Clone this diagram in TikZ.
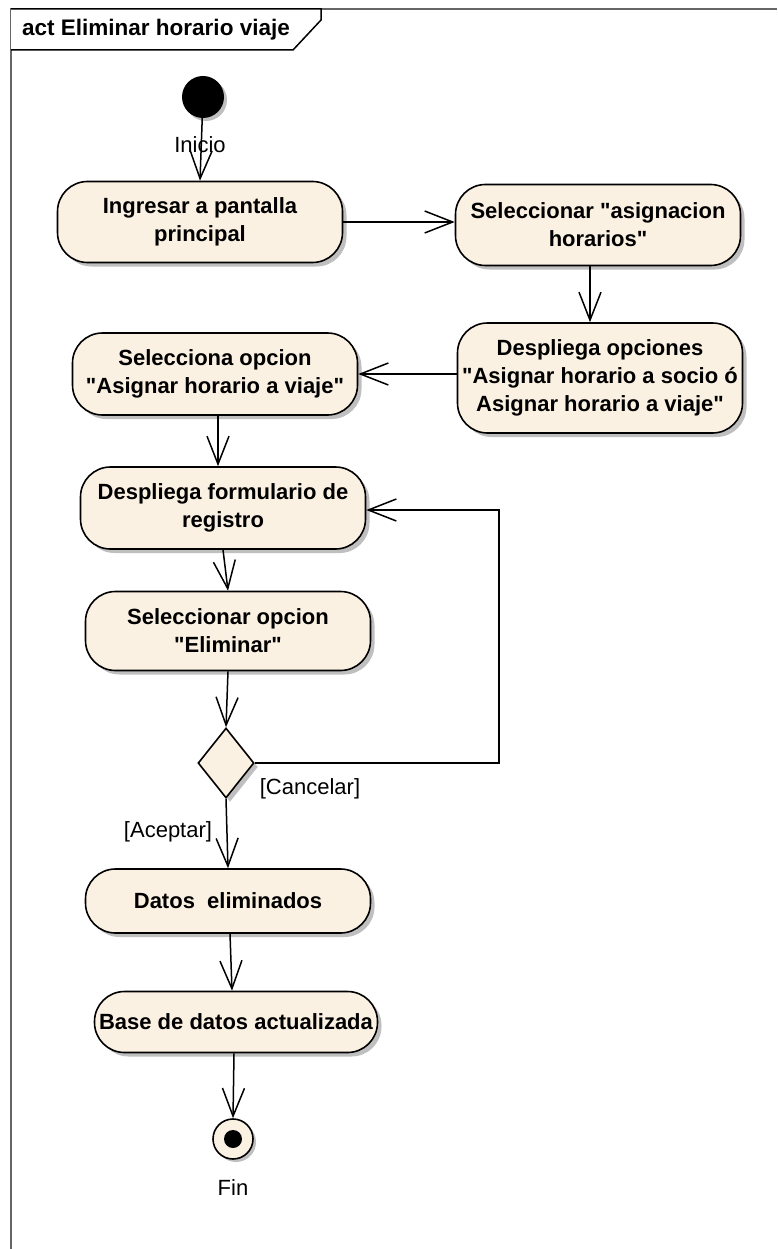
\documentclass[tikz,border=0pt]{standalone}
\usepackage{fontspec}
\setmainfont{Liberation Sans}
\usepackage{tikz}
\usepackage{xcolor}
\usetikzlibrary{shapes.geometric,arrows.meta,shadows}

\definecolor{actfill}{RGB}{251,241,227}
\newcommand{\qt}{\textquotedbl}

\begin{document}
\begin{tikzpicture}[
  x=1pt, y=-1pt,
  act/.style={
    draw, line width=1.6pt, rectangle, rounded corners=30pt,
    fill=actfill, minimum width=285pt, minimum height=81pt,
    font=\fontsize{22}{28}\selectfont\bfseries, align=center, inner sep=2pt,
    drop shadow={shadow xshift=4pt, shadow yshift=-4pt, fill=black!25, opacity=1}
  },
  decision/.style={
    draw, line width=1.6pt, diamond, fill=actfill, inner sep=0pt,
    minimum width=56pt, minimum height=70pt,
    drop shadow={shadow xshift=4pt, shadow yshift=-4pt, fill=black!25, opacity=1}
  },
  arr/.style={-{Straight Barb[length=28pt, width=22pt, line width=1.5pt]}, line width=1.5pt},
  lbl/.style={font=\fontsize{22}{26}\selectfont, inner sep=0pt},
]

\useasboundingbox (0,0) rectangle (777,1249);

% frame
\draw[black!60, line width=1.5pt] (11,1249) -- (11,9) -- (777,9);
\draw[line width=1.5pt, fill=white] (11,9) -- (321,9) -- (321,20) -- (293,50) -- (11,50);
\node[anchor=west, font=\fontsize{22.5}{26}\selectfont\bfseries, inner sep=0pt] (title) at (22,30) {act Eliminar horario viaje};

\node[circle, fill=black, minimum size=42pt, inner sep=0pt,
  drop shadow={shadow xshift=3pt, shadow yshift=-3pt, fill=black!25, opacity=1}] (ini) at (203,97) {};
\node[lbl] (inilbl) at (200,145) {Inicio};

\node[act] (ingresar) at (200,222) {Ingresar a pantalla\\principal};
\node[act] (asignacion) at (598,225) {Seleccionar \qt asignacion\\horarios\qt};
\node[act, minimum height=110pt] (opciones) at (600,378) {Despliega opciones\\\qt Asignar horario a socio ó\\Asignar horario a viaje\qt};
\node[act, minimum height=82pt] (opcviaje) at (215,374) {Selecciona opcion\\\qt Asignar horario a viaje\qt};

\node[act, minimum height=82pt] (formulario) at (223,508) {Despliega formulario de\\registro};
\node[act, minimum height=79pt] (eliminar) at (228,631) {Seleccionar opcion\\\qt Eliminar\qt};

\node[decision] (dec) at (226,763) {};
\node[lbl] (cancelar) at (310,789) {[Cancelar]};
\node[lbl] (aceptar) at (168,832) {[Aceptar]};

\node[act, minimum height=64pt] (eliminados) at (228,901) {Datos\ \ eliminados};
\node[act, minimum height=61pt, minimum width=283pt] (basedatos) at (236,1022) {Base de datos actualizada};

\node[circle, draw, line width=1.6pt, fill=actfill, minimum size=40pt, inner sep=0pt,
  drop shadow={shadow xshift=3pt, shadow yshift=-3pt, fill=black!25, opacity=1}] (fin) at (233,1139) {};
\node[circle, fill=black, minimum size=18pt, inner sep=0pt] (fininner) at (fin) {};
\node[lbl] (finlbl) at (233,1188) {Fin};

\coordinate (vuelta) at (499,510);

\draw[arr] (ini) -- (ingresar.north);
\draw[arr] (ingresar.east) -- (ingresar.east -| asignacion.west);
\draw[arr] ([xshift=-8pt]asignacion.south) -- ([xshift=-8pt]asignacion.south |- opciones.north);
\draw[arr] (opcviaje.east -| opciones.west) -- (opcviaje.east);
\draw[arr] ([xshift=3pt]opcviaje.south) -- ([xshift=3pt]opcviaje.south |- formulario.north);
\draw[arr] (formulario.south) -- (eliminar.north);
\draw[arr] (eliminar.south) -- (dec.north);
\draw[arr] (dec.east) -| (vuelta) -- (formulario.east |- vuelta);
\draw[arr] (dec.south) -- (eliminados.north);
\draw[arr] ([xshift=2pt]eliminados.south) -- ([xshift=-4pt]basedatos.north);
\draw[arr] ([xshift=-2pt]basedatos.south) -- (fin.north);

\end{tikzpicture}
\end{document}
